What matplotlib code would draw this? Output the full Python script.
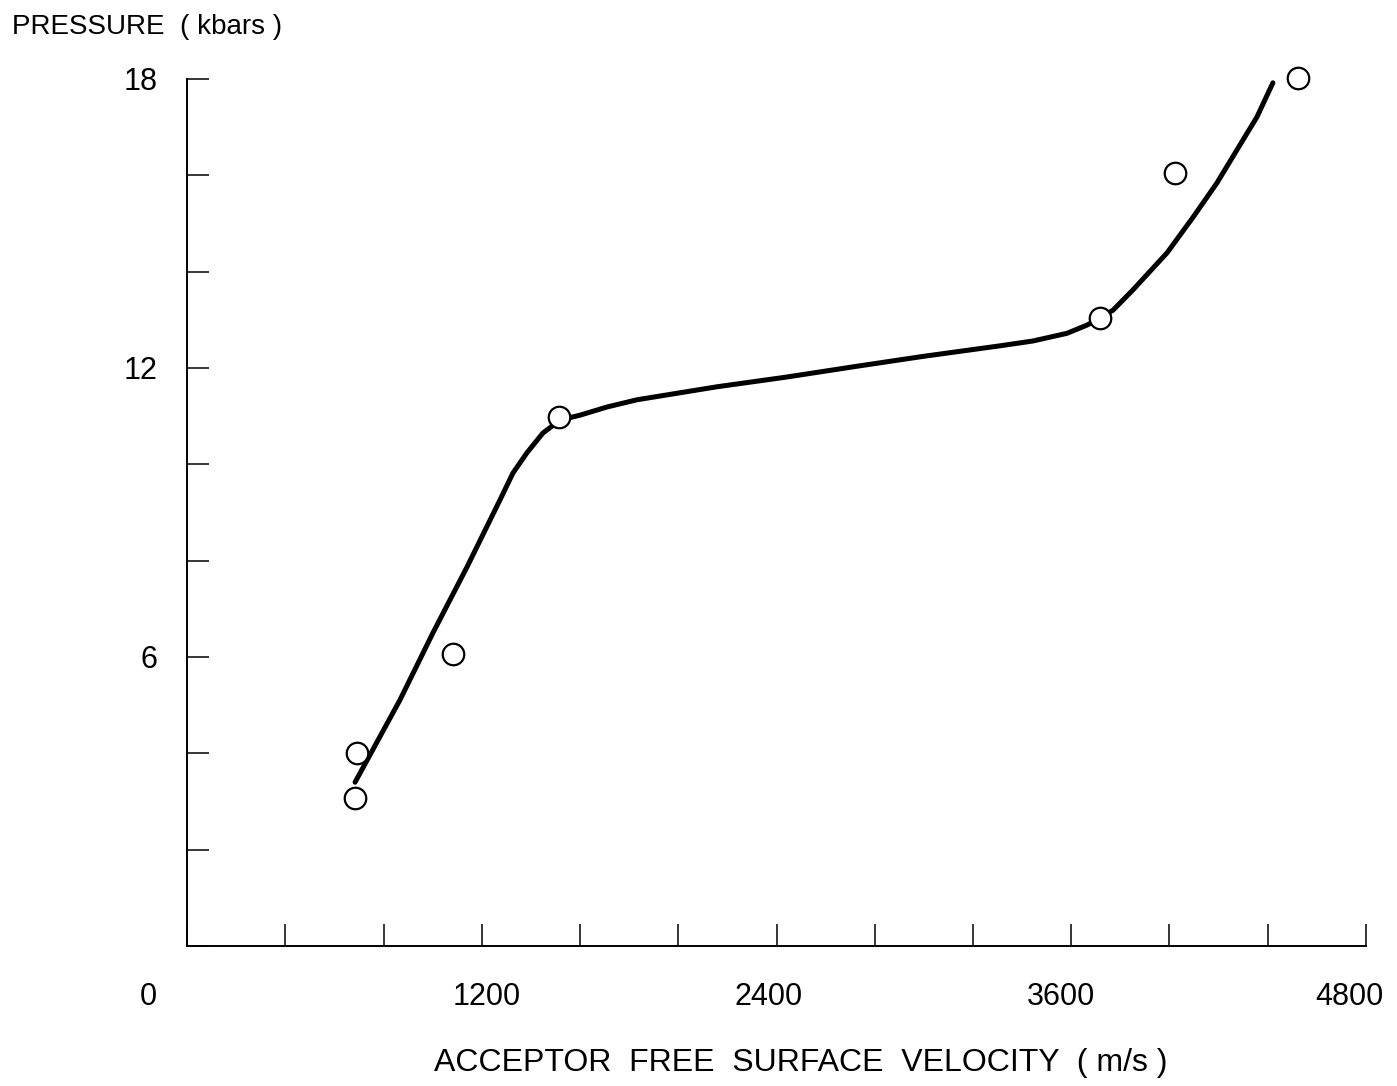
'''
Pressure vs acceptor free surface velocity
'''

import numpy as np
from matplotlib import pyplot as plt
from matplotlib.transforms import ScaledTranslation

plt.rcParams['font.family'] = ['Liberation Sans', 'DejaVu Sans']

# measured points (open circles)
vel_pts = [684, 692, 1083, 1514, 3717, 4022, 4523]
p_pts = [3.07, 4.01, 6.06, 10.98, 13.04, 16.05, 18.02]

vel_curve = [684, 867, 1001, 1140, 1274, 1327, 1384, 1449, 1519, 1600, 1710, 1832,
             2158, 2439, 2720, 2996, 3310, 3444, 3583, 3664, 3717, 3770, 3851,
             3990, 4096, 4193, 4275, 4356, 4421]
p_curve = [3.40, 5.11, 6.50, 7.87, 9.26, 9.82, 10.24, 10.65, 10.92, 11.02, 11.19, 11.34,
           11.61, 11.81, 12.03, 12.24, 12.46, 12.56, 12.72, 12.89, 13.04, 13.20, 13.62,
           14.39, 15.13, 15.84, 16.53, 17.21, 17.92]

xticks = np.arange(0, 4801, 400)
xticklabels = ['', '', '', '1200', '', '', '2400', '', '', '3600', '', '', '4800']
yticks = np.arange(0, 19, 2)
yticklabels = ['', '', '', '6', '', '', '12', '', '', '18']

fig = plt.figure(figsize=(13.97, 10.86), dpi=100)
ax = fig.add_axes([0.1339, 0.1289, 0.8439, 0.7984])

ax.plot(vel_curve, p_curve, color='black', lw=3.6, solid_capstyle='round',
        solid_joinstyle='round', zorder=2)
ax.plot(vel_pts, p_pts, 'o', ms=15.5, mfc='white', mec='black', mew=1.6,
        clip_on=False, zorder=3)

ax.set_xlim(0, 4800)
ax.set_ylim(0, 18)
for s in ['top', 'right']:
	ax.spines[s].set_visible(False)
for s in ['left', 'bottom']:
	ax.spines[s].set_linewidth(1.4)

ax.set_xticks(xticks)
ax.set_xticklabels(xticklabels)
ax.set_yticks(yticks)
ax.set_yticklabels(yticklabels)
ax.tick_params(direction='in', length=16, width=1.1, labelsize=22)
ax.tick_params(axis='x', pad=26)
ax.tick_params(axis='y', pad=21)

# the scanned labels sit a little left of their ticks
shifts = [0, 0, 0, 5, 0, 0, -8, 0, 0, -10, 0, 0, -17]
for lab, dx in zip(ax.get_xticklabels(), shifts):
	lab.set_transform(lab.get_transform() + ScaledTranslation(dx/100., 0, fig.dpi_scale_trans))

ax.annotate('0', xy=(0, 0), xytext=(-28, -26), textcoords='offset points',
            ha='center', va='top', fontsize=22)

fig.text(12/1397, 1-27/1086, 'PRESSURE  ( kbars )', ha='left', va='center', fontsize=20)
fig.text(801/1397, 1-1063/1086, 'ACCEPTOR  FREE  SURFACE  VELOCITY  ( m/s )',
         ha='center', va='center', fontsize=23)

fig.savefig('out.png', dpi=100)
